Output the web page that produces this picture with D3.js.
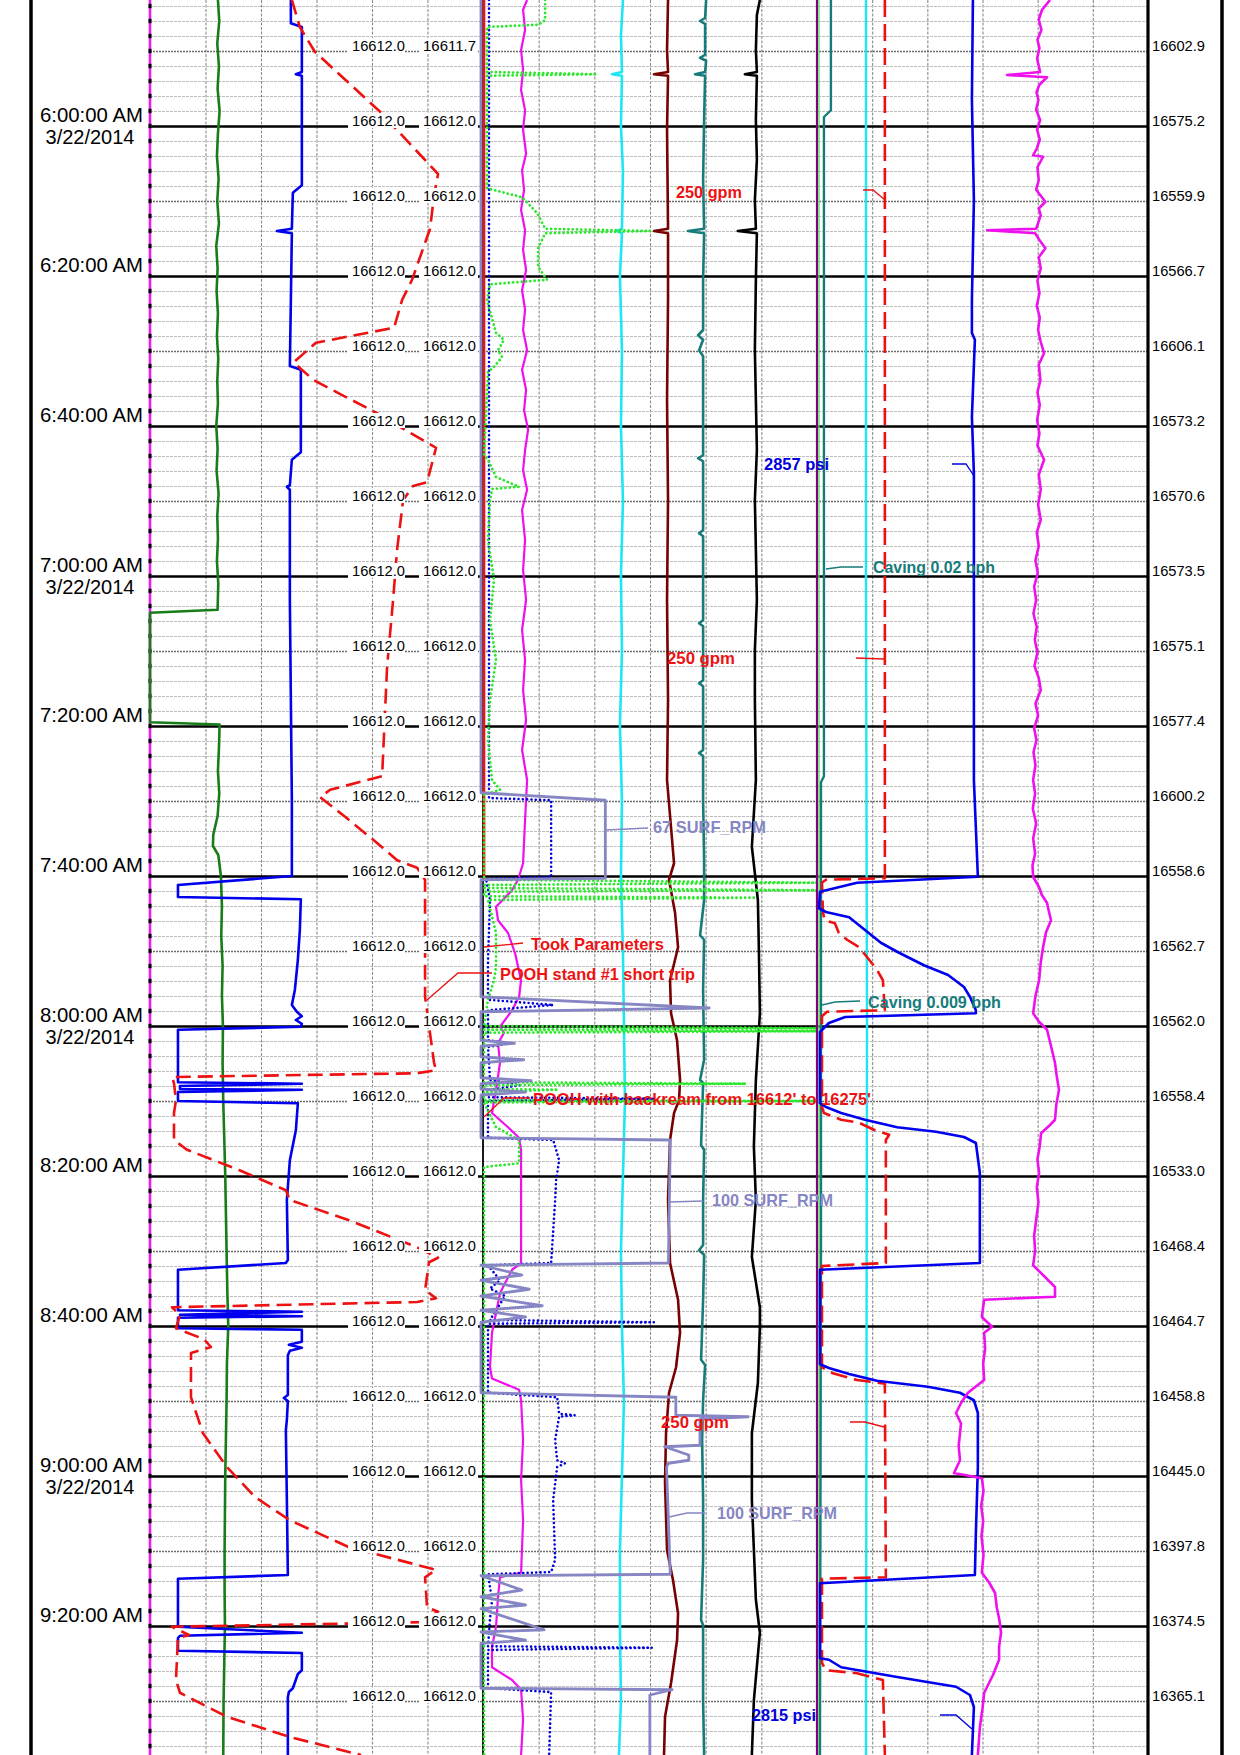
<!DOCTYPE html>
<html><head><meta charset="utf-8">
<script src="https://cdn.jsdelivr.net/npm/d3@7"></script>
<style>
html,body{margin:0;padding:0;background:#fff;}
svg{display:block;}
text{font-family:"Liberation Sans",Arial,Helvetica,sans-serif;}
</style></head><body>
<svg id="chart" width="1240" height="1755"></svg>
<script>
// ---------- DATA (time = minutes after 6:00:00 AM, 3/22/2014) ----------
const timeTicks = [0, 20, 40, 60, 80, 100, 120, 140, 160, 180, 200];
const timeLabels = ["6:00:00 AM","6:20:00 AM","6:40:00 AM","7:00:00 AM","7:20:00 AM","7:40:00 AM","8:00:00 AM","8:20:00 AM","8:40:00 AM","9:00:00 AM","9:20:00 AM"];
const dateLabels = ["3/22/2014","","","3/22/2014","","","3/22/2014","","","3/22/2014",""];
const depthTimes = [-10,0,10,20,30,40,50,60,70,80,90,100,110,120,130,140,150,160,170,180,190,200,210];
const bitDepth = ["16612.0","16612.0","16612.0","16612.0","16612.0","16612.0","16612.0","16612.0","16612.0","16612.0","16612.0","16612.0","16612.0","16612.0","16612.0","16612.0","16612.0","16612.0","16612.0","16612.0","16612.0","16612.0","16612.0"];
const holeDepth = ["16611.7","16612.0","16612.0","16612.0","16612.0","16612.0","16612.0","16612.0","16612.0","16612.0","16612.0","16612.0","16612.0","16612.0","16612.0","16612.0","16612.0","16612.0","16612.0","16612.0","16612.0","16612.0","16612.0"];
const rightDepth = ["16602.9","16575.2","16559.9","16566.7","16606.1","16573.2","16570.6","16573.5","16575.1","16577.4","16600.2","16558.6","16562.7","16562.0","16558.4","16533.0","16468.4","16464.7","16458.8","16445.0","16397.8","16374.5","16365.1"];

// Track 1 (values in % of track)
const t1Magenta = [[-16.8,0],[217.2,0]];
const t1Green = [[-16.8,20.4],[-14,20.8],[-11,20.2],[-8,20.7],[-5,20.3],[-2,20.9],[1,20.4],[4,20.1],[7,20.6],[10,20.2],[13,20.7],[16,19.9],[19,20.3],[22,20.0],[25,20.4],[28,20.1],[31,20.5],[34,20.2],[37,20.4],[40,19.9],[43,20.3],[46,20.0],[49,20.6],[52,20.2],[55,20.4],[58,20.1],[61,20.5],[64.5,20.3],[64.9,0],[79.5,0],[79.8,20.9],[83,20.7],[86,20.4],[89,20.8],[92,20.3],[94.5,19.0],[96,18.9],[97.2,20.5],[100,21.3],[104,21.6],[108,21.4],[112,21.8],[116,21.6],[120,21.9],[125,21.8],[130,22.0],[135,22.3],[140,22.6],[145,22.8],[150,23.0],[155,23.2],[160,23.5],[165,23.1],[170,23.0],[175,22.8],[180,22.6],[185,22.5],[190,22.4],[195,22.4],[200,22.5],[205,22.3],[210,22.1],[217.2,22.0]];
const t1Blue = [[-16.8,42.3],[-13.7,42.3],[-13.2,45.6],[-7.2,45.6],[-6.9,43.8],[-6.7,45.6],[7.9,45.6],[8.9,42.9],[13.7,42.6],[14.0,38.1],[14.3,42.6],[23.2,42.3],[32.0,42.0],[32.5,45.3],[43.5,45.3],[44.5,42.6],[47.9,42.0],[48.1,41.1],[48.5,42.0],[63.2,42.0],[76.5,42.3],[89.9,42.6],[100.0,42.6],[101.2,8.4],[102.8,8.4],[103.1,45.3],[107.2,45.0],[111.2,44.4],[115.2,43.5],[117.2,42.6],[118.1,44.1],[118.7,45.6],[119.2,43.8],[119.7,45.6],[120.1,45.3],[120.5,8.4],[127.5,8.4],[127.7,45.6],[128.0,9.0],[128.4,9.0],[128.5,45.6],[128.8,8.4],[130.0,8.4],[130.3,44.4],[133.9,43.8],[137.9,42.0],[143.2,41.1],[151.2,41.4],[151.6,40.8],[152.5,8.4],[157.9,8.4],[158.1,45.6],[158.5,9.0],[158.7,45.6],[158.9,8.4],[160.3,8.4],[160.5,45.6],[162.1,45.6],[162.5,41.7],[162.9,45.6],[163.3,42.0],[163.9,41.4],[169.2,41.4],[169.6,40.2],[170.0,41.4],[172.5,41.1],[173.9,40.8],[183.2,41.1],[193.2,41.4],[193.7,8.4],[200.1,8.4],[200.9,45.6],[201.3,9.0],[201.6,8.4],[203.3,8.4],[203.6,45.6],[205.9,45.6],[206.4,44.4],[208.3,42.9],[208.8,41.7],[209.5,41.4],[217.2,41.4]];
const t1RedDash = [[-16.8,42.6],[-13.2,45.0],[-9.9,49.5],[-1.9,69.1],[6.4,86.5],[9.3,85.3],[13.7,84.1],[20.5,78.7],[23.2,75.7],[26.9,73.3],[28.9,49.8],[31.5,43.2],[32.5,45.6],[33.9,49.2],[38.3,68.2],[40.5,76.6],[42.9,85.9],[47.5,83.2],[48.0,79.0],[49.9,76.0],[56.5,74.2],[63.2,73.0],[72.1,71.2],[86.7,69.7],[88.5,54.1],[89.5,51.1],[92.1,58.6],[95.6,68.2],[97.9,74.2],[98.9,80.2],[100.5,82.6],[116.1,82.6],[124.9,85.3],[125.9,85.9],[126.3,80.2],[126.8,6.6],[127.6,7.2],[129.9,7.8],[131.6,7.2],[135.2,7.2],[136.5,11.1],[139.2,26.7],[141.9,40.8],[143.2,42.0],[145.9,59.8],[149.5,80.2],[150.9,86.5],[151.5,83.8],[155.2,82.6],[156.3,85.9],[156.8,80.2],[157.5,6.6],[158.5,9.0],[160.3,7.8],[161.5,14.7],[161.9,16.5],[162.8,18.3],[163.6,12.3],[169.5,12.3],[174.3,15.9],[178.8,23.1],[182.8,31.5],[185.9,42.0],[189.5,59.8],[192.5,85.9],[193.5,82.6],[197.5,83.2],[198.1,86.5],[199.5,81.1],[200.1,6.6],[201.2,11.7],[201.6,8.4],[207.2,7.8],[208.9,9.0],[212.1,23.1],[214.8,42.0],[217.2,63.4]];

// Track 2 (values in % of track, SURF_RPM in rpm 0-180)
const t2Red = [[-16.8,0.3],[100.5,0.3]];
const surfRpm = [[-16.8,0],[88.9,0],[89.9,67],[100.3,67],[100.5,0],[116.1,0],[117.6,123],[118.1,0],[121.9,0],[122.3,18],[122.7,0],[124.1,0],[124.5,23],[124.9,0],[126.9,0],[127.3,27],[127.7,0],[128.4,0],[128.8,24],[129.2,0],[134.9,0],[135.2,102],[151.6,101],[151.9,0],[153.2,22],[153.9,0],[155.1,26],[156.0,0],[157.3,33],[157.9,0],[158.8,24],[159.5,0],[168.9,0],[169.5,105],[171.9,105],[172.1,144],[172.4,118],[175.9,118],[176.1,99],[177.2,112],[177.9,112],[178.3,101],[178.8,100],[193.1,102],[193.3,0],[195.2,22],[196.1,0],[197.2,24],[197.7,0],[200.5,34],[200.8,0],[201.9,24],[202.3,0],[208.3,0],[208.5,103],[209.2,91],[217.2,91]];
const t2BlueDot = [[-16.8,1.8],[89.6,1.8],[89.9,20.4],[100.1,20.4],[100.4,0.9],[103.2,2.1],[111.2,1.5],[116.5,1.5],[117.2,21.0],[117.9,1.5],[121.9,1.5],[122.3,8.1],[122.8,1.5],[127.2,2.1],[127.9,11.1],[128.5,2.1],[129.5,1.5],[129.7,51.2],[130.0,1.5],[134.9,1.5],[135.2,21.0],[137.9,22.8],[140.5,21.9],[143.2,21.6],[151.6,20.4],[151.9,1.5],[153.9,5.1],[155.0,2.1],[156.0,6.6],[159.2,2.1],[159.5,51.2],[159.7,1.5],[168.9,1.5],[169.5,22.2],[171.7,22.8],[171.9,27.5],[172.1,22.8],[175.2,21.6],[177.9,22.2],[178.3,24.6],[178.8,22.2],[183.2,21.0],[191.2,21.6],[192.8,20.4],[193.1,1.5],[196.5,2.7],[199.0,2.1],[202.7,1.5],[202.9,50.6],[203.2,1.5],[208.3,1.5],[208.8,20.4],[217.2,19.8]];
const t2GreenDot = [[-16.8,18.6],[-14.1,18.6],[-13.5,16.5],[-13.2,1.2],[-7.2,1.2],[-6.9,34.1],[-6.7,1.2],[8.3,1.2],[9.5,11.7],[11.6,16.2],[13.7,18.6],[14.0,50.0],[14.3,18.6],[16.3,16.5],[18.8,16.5],[20.5,19.2],[21.1,2.1],[23.2,1.2],[27.6,3.9],[28.5,6.3],[29.9,4.5],[30.8,5.7],[32.1,3.3],[32.8,1.5],[43.9,0.3],[44.5,1.5],[46.8,3.9],[48.1,10.8],[48.4,2.7],[49.9,2.1],[55.2,1.5],[60.5,3.3],[65.9,2.1],[71.2,3.9],[76.5,2.1],[81.9,1.5],[87.2,2.7],[88.5,5.1],[89.2,0.3],[100.5,0.3],[100.9,100],[101.2,0.3],[101.6,0.3],[101.9,100],[102.1,0.3],[102.7,0.3],[102.9,81.7],[103.2,1.5],[107.6,3.9],[112.1,3.9],[113.9,3.3],[116.5,1.5],[120.0,0.3],[120.3,100],[120.5,0.3],[120.7,100],[120.9,0.3],[127.5,0.3],[127.7,78.7],[127.9,0.3],[128.4,0.3],[128.5,22.5],[128.8,0.3],[129.9,0.3],[130.0,99.7],[130.2,0.3],[133.5,3.9],[135.2,10.8],[138.3,10.8],[138.8,0.3],[217.2,0.3]];
const t2Magenta = [[-16.8,13.2],[-15.5,12.0],[-12.8,12.6],[-10.1,11.4],[-7.5,12.0],[-4.8,11.4],[-2.1,12.6],[0.5,12.0],[3.7,12.9],[5.9,11.7],[8.5,12.3],[11.2,11.4],[13.9,12.6],[16.5,12.0],[19.2,12.9],[21.9,11.7],[24.5,12.6],[27.2,12.0],[29.9,13.2],[32.5,11.7],[35.2,12.9],[37.9,12.3],[40.5,13.5],[43.2,12.6],[45.9,12.0],[48.5,13.2],[51.2,11.7],[55.2,12.6],[59.2,12.0],[63.2,12.9],[67.2,11.7],[71.2,12.6],[75.2,12.0],[79.2,12.9],[83.2,11.7],[87.2,13.2],[92.5,12.6],[98.3,12.0],[100.5,10.5],[101.9,8.7],[104.1,3.9],[105.9,4.5],[107.6,7.5],[110.3,9.6],[113.9,11.4],[116.1,10.8],[117.9,8.7],[120.1,5.1],[120.9,6.3],[122.3,4.5],[124.9,5.1],[128.5,3.9],[131.6,2.7],[133.5,7.5],[134.9,10.8],[136.5,11.4],[143.2,11.4],[151.6,11.4],[152.5,8.7],[155.6,5.1],[158.3,3.9],[160.9,2.7],[165.5,2.1],[167.0,2.7],[168.5,10.8],[169.9,11.4],[175.2,12.0],[180.5,11.4],[185.9,12.0],[192.9,11.4],[193.5,5.1],[196.1,4.5],[200.1,3.9],[202.8,2.7],[205.5,2.7],[207.2,8.7],[208.5,11.4],[212.5,12.0],[217.2,11.4]];
const t2Cyan = [[-16.8,41.9],[-12,41.3],[-7.2,41.6],[-6.9,38.6],[-6.7,41.6],[0,41.3],[6,41.9],[13.7,41.6],[14.0,40.1],[14.3,41.6],[20,41.0],[30,41.6],[40,41.3],[50,41.9],[60,41.3],[70,41.6],[80,41.0],[90,41.6],[100,41.3],[110,41.9],[120,42.2],[130,42.5],[140,41.9],[150,41.3],[160,41.6],[170,42.2],[180,41.6],[190,41.0],[200,41.0],[210,41.3],[217.2,40.7]];
const t2Maroon = [[-16.8,55.4],[-10.1,55.1],[-7.2,55.4],[-6.9,51.2],[-6.7,55.4],[0.5,55.1],[13.7,55.4],[14.0,51.2],[14.3,55.4],[23.2,55.4],[36.5,55.1],[49.9,55.4],[63.2,55.1],[76.5,55.4],[87.2,55.1],[98.3,57.2],[100.5,55.7],[104.9,57.5],[109.5,58.4],[113.9,56.0],[118.3,56.3],[121.9,58.1],[127.2,59.0],[129.9,58.7],[131.6,57.2],[135.2,56.0],[143.2,55.4],[151.6,56.0],[156.5,58.4],[160.9,59.0],[165.5,57.8],[168.9,55.7],[174.3,54.8],[180.9,54.5],[189.9,55.1],[193.9,56.9],[198.3,58.4],[201.9,58.1],[207.6,56.3],[212.1,54.5],[217.2,54.2]];
const t2Teal = [[-16.8,66.8],[-14.4,66.5],[-14.0,65.0],[-13.6,66.5],[-9.5,66.5],[-9.1,65.0],[-8.7,66.8],[-7.2,66.5],[-6.9,63.5],[-6.7,66.5],[-0.8,66.2],[7.2,65.9],[13.7,66.2],[14.0,61.4],[14.3,66.2],[20.5,65.9],[27.2,65.9],[27.9,64.4],[28.5,65.9],[29.9,64.7],[30.7,65.9],[39.2,65.9],[43.9,65.9],[44.3,64.4],[44.7,65.9],[53.9,65.9],[54.3,64.7],[54.7,65.9],[65.9,65.9],[66.3,64.7],[66.7,65.9],[73.9,65.9],[74.3,64.7],[74.7,65.9],[83.2,65.9],[83.6,64.7],[84.0,65.9],[89.9,65.9],[97.9,66.2],[103.2,66.2],[107.9,65.0],[108.5,66.2],[115.2,65.9],[124.5,66.2],[127.2,65.0],[127.6,65.9],[135.9,65.3],[136.5,66.2],[143.2,65.9],[149.2,65.9],[149.9,64.7],[150.5,66.2],[156.5,65.9],[164.5,65.3],[165.2,66.5],[169.9,65.9],[175.2,65.6],[183.2,65.9],[191.2,65.9],[199.2,65.3],[199.9,65.9],[209.9,65.9],[217.2,66.2]];
const t2Black = [[-16.8,82.9],[-14.8,82.0],[-10.1,81.7],[-7.2,82.0],[-6.9,78.4],[-6.7,82.0],[-0.8,81.7],[4.5,82.0],[9.9,81.4],[13.7,81.7],[14.0,76.3],[14.3,82.0],[20.5,81.7],[29.9,81.4],[36.5,81.7],[43.2,82.0],[49.9,81.4],[56.5,81.7],[63.2,82.0],[69.9,81.4],[76.5,81.4],[87.2,81.7],[96.1,80.5],[103.2,82.3],[109.9,82.6],[118.3,82.9],[127.2,81.7],[136.1,81.1],[143.2,81.7],[150.8,80.5],[157.5,82.9],[160.1,82.9],[167.6,82.3],[174.3,80.5],[183.2,80.5],[196.5,81.7],[200.9,82.9],[209.9,81.1],[217.2,80.5]];

// Track 3 (values in % of track)
const t3Purple = [[-16.8,0],[217.2,0]];
const t3LightGreen = [[-16.8,0.6],[217.2,0.6]];
const t3Teal = [[-16.8,4.2],[-2.1,4.2],[-1.2,2.1],[86.7,2.1],[87.5,1.2],[150,1.2],[217.2,0.9]];
const t3Cyan = [[-16.8,14.8],[60,14.8],[120,15.1],[217.2,14.8]];
const t3RedDash = [[-16.8,20.5],[100.3,20.5],[100.5,2.7],[100.9,1.5],[104.9,1.8],[105.9,2.4],[106.3,5.4],[107.6,6.6],[108.5,9.1],[109.5,12.7],[110.8,15.1],[112.5,18.1],[113.9,19.9],[117.9,20.5],[118.1,3.0],[118.7,1.5],[130.8,1.5],[131.6,2.1],[132.5,7.3],[132.9,12.7],[133.9,17.5],[134.5,21.8],[135.2,20.8],[151.6,20.8],[152.0,1.5],[165.5,1.5],[166.3,4.8],[167.2,12.1],[167.7,20.5],[193.5,20.8],[193.7,1.5],[204.9,1.5],[205.9,2.7],[206.3,12.1],[207.2,19.9],[217.2,20.5]];
const t3Blue = [[-16.8,47.1],[-3.5,46.8],[9.9,47.4],[23.2,46.8],[27.6,46.8],[28.5,47.7],[38.8,46.8],[46.3,47.4],[63.2,47.4],[87.2,47.4],[100.1,48.6],[100.9,12.1],[102.1,0.9],[104.3,0.6],[104.8,2.7],[105.5,9.7],[107.2,14.5],[108.9,19.3],[110.1,24.2],[111.9,32.3],[113.2,39.6],[114.8,44.4],[116.1,46.2],[117.9,48.0],[118.3,48.0],[118.8,8.5],[119.6,3.6],[120.8,0.9],[130.3,0.9],[130.8,2.7],[131.6,7.3],[132.5,14.5],[133.5,24.2],[134.1,36.0],[134.8,44.4],[135.6,48.0],[139.6,49.2],[151.6,49.2],[152.5,0.9],[165.1,0.9],[165.6,3.6],[166.4,9.7],[167.3,18.1],[168.1,33.5],[168.9,43.2],[169.9,47.4],[171.6,48.6],[178.8,48.6],[187.6,48.0],[193.2,47.7],[194.3,0.9],[204.3,0.9],[204.5,3.6],[205.5,7.3],[206.8,24.2],[208.1,42.0],[209.2,46.2],[210.8,47.4],[217.2,46.8]];
const t3Magenta = [[-16.8,70.4],[-15.5,68.0],[-14.2,67.0],[-12.8,67.8],[-11.5,66.6],[-10.4,67.2],[-9,66.5],[-7.2,67.4],[-6.8,57.4],[-6.5,69.5],[-5.5,67.2],[-4.5,66.3],[-3.5,66.9],[-2.2,66.2],[-0.8,67.4],[0.5,66.5],[1.8,67.3],[3.0,66.4],[3.9,65.3],[4.1,68.3],[5.5,66.6],[7.2,67.0],[8.5,66.2],[10.1,69.0],[11.0,67.0],[11.9,67.6],[13.7,66.2],[13.9,51.4],[14.3,65.9],[15.2,67.2],[16.3,69.0],[17.5,67.0],[19,67.6],[20.6,66.6],[22.3,67.2],[24,66.4],[25.5,67.3],[27.2,66.8],[28.8,67.6],[30.3,68.6],[31.8,67.0],[33.9,67.5],[35.5,66.6],[37.2,67.3],[39.2,66.5],[41,67.2],[42.6,66.6],[44.5,68.6],[46.5,67.0],[48.5,67.6],[50.5,66.8],[52.5,67.6],[54.2,66.4],[56,67.0],[57.9,66.0],[59.6,66.7],[61.4,65.6],[63.2,66.2],[65,65.4],[66.8,66.4],[68.5,65.8],[70.2,66.6],[72,65.7],[73.6,67.0],[75.2,67.6],[77,66.0],[78.6,66.8],[80.3,65.6],[81.9,66.3],[83.5,65.4],[85.2,66.0],[87.2,65.3],[89,65.9],[91,65.2],[93,66.2],[95,65.3],[97,65.9],[98.6,65.1],[100.1,65.3],[101.5,67.1],[102.5,67.9],[103.6,69.5],[104.8,70.1],[105.9,70.7],[107.5,69.2],[109.5,68.3],[111.5,67.6],[113.9,67.1],[116,66.0],[118.3,65.3],[119.4,67.0],[120.5,69.5],[122.5,70.6],[124.9,71.9],[126.6,72.4],[128.5,73.1],[130.5,72.3],[132.5,71.9],[133.2,70.4],[134.3,67.7],[136,67.3],[137.8,66.6],[139.6,67.1],[141.5,66.4],[143.5,66.9],[145.9,66.2],[148,65.6],[150,65.9],[151.9,65.3],[153.3,68.5],[154.8,71.9],[156.1,71.9],[156.5,50.5],[158.8,49.8],[160.1,52.9],[160.9,50.5],[163,50.8],[165,50.2],[167.2,50.5],[168.9,45.6],[170.2,43.6],[171.6,42.0],[173,43.5],[174.3,43.2],[176,42.8],[177.9,43.2],[179.6,41.4],[180.3,49.8],[182,50.3],[184,49.6],[186,50.2],[188,49.7],[190.5,50.3],[192.9,49.8],[194.2,52.0],[195.6,53.8],[197.5,54.3],[199.2,55.1],[200.9,55.6],[202.8,55.0],[204.5,55.0],[206.5,53.2],[208.9,50.5],[211,50.0],[213.5,49.2],[217.2,48.6]];

// ---------- DRAWING ----------
const W = 1240, H = 1755;
const svg = d3.select("#chart");
svg.append("rect").attr("width", W).attr("height", H).attr("fill", "#fff");

const y = d3.scaleLinear().domain([-16.8, 217.2]).range([0, H]);
const x1 = d3.scaleLinear().domain([0, 100]).range([150, 483]);
const x2 = d3.scaleLinear().domain([0, 100]).range([483, 817]);
const x3 = d3.scaleLinear().domain([0, 100]).range([817, 1148]);
const xRpm = d3.scaleLinear().domain([0, 180]).range([481, 815]);

const defs = svg.append("defs");
[["c1",148,485],["c2",479,817],["c3",815,1148]].forEach(([id,a,b])=>{
  defs.append("clipPath").attr("id",id).append("rect").attr("x",a).attr("y",0).attr("width",b-a).attr("height",H);
});

// vertical grid
const vTicks = [100/6, 200/6, 300/6, 400/6, 500/6];
[x1, x2, x3].forEach(xs => {
  const g = svg.append("g").call(d3.axisTop(xs).tickValues(vTicks).tickSize(-H).tickFormat(""));
  g.select(".domain").remove();
  g.selectAll(".tick line").attr("stroke", "#8c8c8c").attr("stroke-width", 1.1).attr("stroke-dasharray", "3,1.5");
});

// horizontal grid
function hgrid(vals, stroke, width, dash) {
  const g = svg.append("g").attr("transform", "translate(150,0)")
    .call(d3.axisLeft(y).tickValues(vals).tickSize(-998).tickFormat(""));
  g.select(".domain").remove();
  g.selectAll(".tick line").attr("stroke", stroke).attr("stroke-width", width).attr("stroke-dasharray", dash);
}
const allTwo = d3.range(-16, 217.1, 2);
hgrid(allTwo.filter(v => v % 10 !== 0), "#bdbdbd", 1, "3,1");
hgrid(depthTimes.filter(v => v % 20 !== 0), "#6e6e6e", 1.4, "2,1");
hgrid(timeTicks, "#000", 2.6, null);

// borders
[[31,3.5],[483,1.8],[817,1.8],[1148,3.2],[1222,3.5]].forEach(([x,w])=>{
  svg.append("line").attr("x1",x).attr("x2",x).attr("y1",0).attr("y2",H).attr("stroke","#000").attr("stroke-width",w);
});

const line = (xs) => d3.line().x(d => xs(d[1])).y(d => y(d[0]));
function curve(data, xs, clip, color, width, dash, cap) {
  svg.append("path").datum(data).attr("clip-path", `url(#${clip})`)
    .attr("d", line(xs)).attr("fill", "none").attr("stroke", color)
    .attr("stroke-width", width).attr("stroke-dasharray", dash || null)
    .attr("stroke-linecap", cap || "butt").attr("stroke-linejoin", "round");
}
const DOT = "0.01,4.3";

// track 1
curve(t1Magenta, x1, "c1", "#e81ee8", 2.6);
svg.append("g").selectAll("line").data(allTwo).join("line")
  .attr("x1",150).attr("x2",150).attr("y1",d=>y(d)-2.2).attr("y2",d=>y(d)+2.2)
  .attr("stroke","#000").attr("stroke-width",3);
curve(t1Green, x1, "c1", "#187c18", 2.6);
curve(t1Blue, x1, "c1", "#0000ee", 2.6);
curve(t1RedDash, x1, "c1", "#ee1111", 2.6, "15,7");

// track 2
curve(t2Red, x2, "c2", "#ee1111", 2.6);
curve(t2Cyan, x2, "c2", "#1ee6f2", 2.6);
curve(t2Maroon, x2, "c2", "#780000", 2.6);
curve(t2Teal, x2, "c2", "#167b7b", 2.6);
curve(t2Black, x2, "c2", "#000", 2.6);
curve(t2Magenta, x2, "c2", "#ee11ee", 2.2);
curve(t2BlueDot, x2, "c2", "#0000dd", 2.6, DOT, "round");
curve(t2GreenDot, x2, "c2", "#2ce82c", 2.8, DOT, "round");
curve(surfRpm, xRpm, "c2", "#8686c4", 2.8);

// track 3
curve(t3Purple, x3, "c3", "#800080", 2.2);
curve(t3LightGreen, x3, "c3", "#4ee84e", 1.3);
curve(t3Teal, x3, "c3", "#167b7b", 2.4);
curve(t3Cyan, x3, "c3", "#1ee6f2", 2.4);
curve(t3RedDash, x3, "c3", "#ee1111", 2.6, "17,7");
curve(t3Blue, x3, "c3", "#0000ee", 2.6);
curve(t3Magenta, x3, "c3", "#ee11ee", 2.6);

// depth labels
const dl = svg.append("g");
depthTimes.forEach((t, i) => {
  const yy = y(t);
  dl.append("rect").attr("x",348).attr("y",yy-13).attr("width",57).attr("height",15).attr("fill","#fff");
  dl.append("rect").attr("x",419).attr("y",yy-13).attr("width",59).attr("height",15).attr("fill","#fff");
  dl.append("text").attr("x",352).attr("y",yy).attr("font-size",15).attr("textLength",53).attr("lengthAdjust","spacingAndGlyphs").text(bitDepth[i]);
  dl.append("text").attr("x",423).attr("y",yy).attr("font-size",15).attr("textLength",53).attr("lengthAdjust","spacingAndGlyphs").text(holeDepth[i]);
  dl.append("text").attr("x",1152).attr("y",yy).attr("font-size",15).attr("textLength",53).attr("lengthAdjust","spacingAndGlyphs").text(rightDepth[i]);
});

// time labels
timeTicks.forEach((t, i) => {
  const yy = y(t);
  svg.append("text").attr("x",91.5).attr("y",yy-4).attr("text-anchor","middle").attr("font-size",20)
    .attr("textLength",103).attr("lengthAdjust","spacingAndGlyphs").text(timeLabels[i]);
  if (dateLabels[i]) svg.append("text").attr("x",90).attr("y",yy+18).attr("text-anchor","middle").attr("font-size",20)
    .attr("textLength",89).attr("lengthAdjust","spacingAndGlyphs").text(dateLabels[i]);
});

// annotations
const RED="#ee1111", BLUE="#0000dd", TEAL="#167b7b", LAV="#8686c4";
function leader(pts, color){
  svg.append("path").attr("d", d3.line()(pts)).attr("fill","none").attr("stroke",color).attr("stroke-width",1.3);
}
function note(txt, color, x, yy, len){
  svg.append("text").attr("x",x).attr("y",yy).attr("font-size",16.5).attr("font-weight","bold")
    .attr("fill",color).attr("textLength",len).attr("lengthAdjust","spacingAndGlyphs").text(txt);
}
leader([[863,190],[873,190],[885,200]], RED);
leader([[856,658],[884,659]], RED);
leader([[850,1422],[865,1422],[884,1427]], RED);
leader([[952,464],[966,464],[974,476]], BLUE);
leader([[940,1715],[956,1715],[972,1729]], BLUE);
leader([[826,569],[841,567],[863,567]], TEAL);
leader([[822,1005],[835,1002],[860,1001]], TEAL);
leader([[606,830],[648,828]], LAV);
leader([[669,1202],[703,1201]], LAV);
leader([[669,1517],[687,1513],[705,1513]], LAV);
leader([[484,947],[523,943]], RED);
leader([[427,1000],[458,973],[492,973]], RED);
leader([[484,1117],[504,1098],[530,1098]], RED);

note("250 gpm", RED, 676, 198, 66);
note("250 gpm", RED, 667, 664, 68);
note("250 gpm", RED, 661, 1428, 68);
note("2857 psi", BLUE, 764, 470, 65);
note("2815 psi", BLUE, 752, 1721, 64);
note("Caving 0.02 bph", TEAL, 873, 573, 122);
note("Caving 0.009 bph", TEAL, 868, 1008, 133);
note("67 SURF_RPM", LAV, 653, 833, 113);
note("100 SURF_RPM", LAV, 712, 1206, 121);
note("100 SURF_RPM", LAV, 717, 1519, 120);
note("Took Parameters", RED, 531, 950, 133);
note("POOH stand #1 short trip", RED, 500, 980, 195);
note("POOH with backream from 16612' to 16275'", RED, 533, 1105, 338);
</script></body></html>
